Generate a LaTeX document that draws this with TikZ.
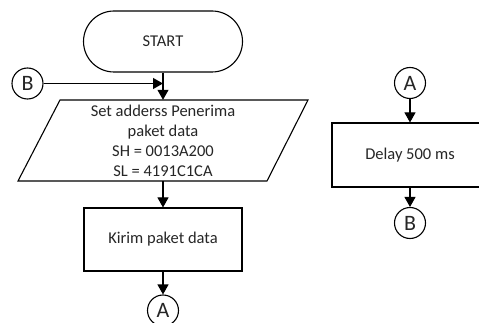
\documentclass[tikz,border=0pt]{standalone}
\usepackage{fontspec}
\setmainfont{Carlito}
\usetikzlibrary{arrows.meta}
\tikzset{
  flowline/.style={line width=1.1pt, draw=black},
  arr/.style={flowline, -{Triangle[length=10pt,width=11pt]}},
  boxtext/.style={font=\fontsize{16.5}{20}\selectfont, text=black!85, align=center, inner sep=0pt},
  procbox/.style={boxtext, draw, line width=1.1pt, rectangle},
  termbox/.style={procbox, rounded corners=30.5pt},
  conn/.style={circle, draw, line width=1.1pt, minimum size=31pt, inner sep=0pt, font=\fontsize{22}{22}\selectfont, text=black!85}
}
\begin{document}
\begin{tikzpicture}[x=1pt,y=-1pt]
\clip (0,0) rectangle (479,323);
\fill[white] (0,0) rectangle (479,323);
% left column
\node[termbox, minimum width=159pt, minimum height=61pt] (start) at (163,41.5) {START};
\node[boxtext, minimum height=81pt, minimum width=200pt] (io) at (163,140.5) {Set adderss Penerima\\paket data\\SH = 0013A200\\SL = 4191C1CA};
\draw[flowline] (60,100) -- (308,100) -- (267,181) -- (18,181) -- cycle;
\node[procbox, minimum width=158pt, minimum height=63pt] (kirim) at (163,239.5) {Kirim paket data};
\node[conn] (Bl) at (27.5,83.5) {B};
\node[conn] (Al) at (163,310.5) {A};
\coordinate (join) at (163,83.5);
\draw[arr] (start.south) -- (io.north);
\draw[arr] (Bl.east) -- (join);
\draw[arr] (io.south) -- (kirim.north);
\draw[arr] (kirim.south) -- (Al.north);
% right column
\node[conn] (Ar) at (410,83) {A};
\node[procbox, minimum width=156pt, minimum height=64pt] (delay) at (410,155) {Delay 500 ms};
\node[conn] (Br) at (410,223) {B};
\draw[arr] (Ar.south) -- (delay.north);
\draw[arr] (delay.south) -- (Br.north);
\end{tikzpicture}
\end{document}
